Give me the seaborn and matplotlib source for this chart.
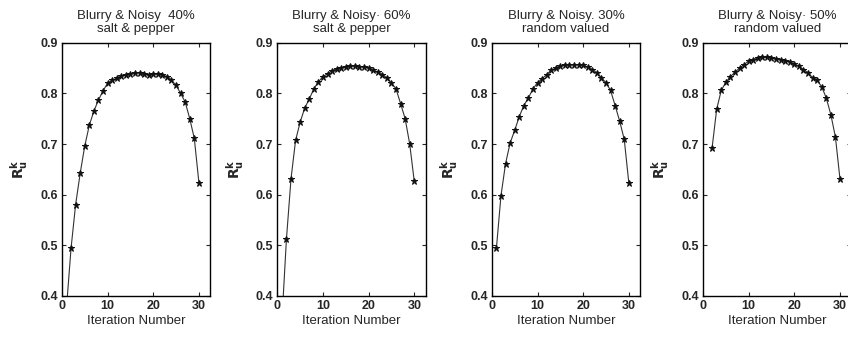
import matplotlib
matplotlib.use("Agg")
import matplotlib.pyplot as plt
import pandas as pd
import seaborn as sns

sns.set(style="ticks")
plt.rcParams['font.family'] = ['Liberation Sans', 'DejaVu Sans']

# values
titles = ["Blurry & Noisy  40%\nsalt & pepper",
          "Blurry & Noisy\u00b7 60%\nsalt & pepper",
          "Blurry & Noisy. 30%\nrandom valued",
          "Blurry & Noisy\u00b7 50%\nrandom valued"]

iters_a = list(range(1, 31))
ru_a = [0.376, 0.494, 0.580, 0.642, 0.696, 0.737, 0.765, 0.787, 0.805, 0.820,
        0.826, 0.830, 0.834, 0.837, 0.838, 0.840, 0.841, 0.838, 0.836, 0.838,
        0.838, 0.837, 0.833, 0.826, 0.816, 0.800, 0.783, 0.750, 0.711, 0.624]

iters_b = list(range(1, 31))
ru_b = [0.350, 0.512, 0.631, 0.707, 0.743, 0.771, 0.789, 0.809, 0.823, 0.833,
        0.839, 0.845, 0.849, 0.851, 0.853, 0.854, 0.854, 0.853, 0.852, 0.850,
        0.846, 0.842, 0.837, 0.831, 0.821, 0.809, 0.780, 0.750, 0.700, 0.626]

iters_c = list(range(1, 31))
ru_c = [0.494, 0.598, 0.661, 0.702, 0.727, 0.754, 0.776, 0.791, 0.809, 0.821,
        0.829, 0.837, 0.846, 0.850, 0.854, 0.856, 0.857, 0.857, 0.857, 0.856,
        0.852, 0.847, 0.841, 0.831, 0.821, 0.806, 0.776, 0.745, 0.709, 0.623]

iters_d = list(range(2, 31))
ru_d = [0.693, 0.769, 0.806, 0.822, 0.833, 0.842, 0.850, 0.857, 0.864, 0.867,
        0.870, 0.871, 0.871, 0.870, 0.868, 0.867, 0.865, 0.862, 0.858, 0.854,
        0.847, 0.841, 0.831, 0.826, 0.813, 0.791, 0.758, 0.714, 0.631]

series = [(iters_a, ru_a), (iters_b, ru_b), (iters_c, ru_c), (iters_d, ru_d)]

fig = plt.figure(figsize=(8.48, 3.37), dpi=100)
lefts = [0.073, 0.327, 0.580, 0.829]

for left, title, (xs, ys) in zip(lefts, titles, series):
    ax = fig.add_axes([left, 0.122, 0.175, 0.751])
    df = pd.DataFrame({"iter": xs, "ru": ys})
    sns.lineplot(data=df, x="iter", y="ru", ax=ax, color="#333333",
                 linewidth=0.8, marker="*", markersize=4.5,
                 markeredgecolor="#111111", markerfacecolor="#111111")
    ax.set_xlim(0, 32.5)
    ax.set_ylim(0.4, 0.9)
    ax.set_xticks([0, 10, 20, 30])
    ax.set_yticks([0.4, 0.5, 0.6, 0.7, 0.8, 0.9])
    ax.set_yticklabels(["0.4", "0.5", "0.6", "0.7", "0.8", "0.9"])
    ax.tick_params(direction="in", top=True, right=True, length=3, width=0.8,
                   labelsize=9, pad=3)
    for lab in ax.get_xticklabels() + ax.get_yticklabels():
        lab.set_fontweight("bold")
    for sp in ax.spines.values():
        sp.set_linewidth(1.0)
        sp.set_color("black")
    ax.set_title(title, fontsize=9.5, pad=8, linespacing=1.05)
    ax.set_xlabel("Iteration Number", fontsize=9.5, labelpad=2)
    ax.set_ylabel(r"$\mathbf{R}_\mathbf{u}^\mathbf{k}$", fontsize=10, labelpad=7)

plt.savefig("out.png", dpi=100)
